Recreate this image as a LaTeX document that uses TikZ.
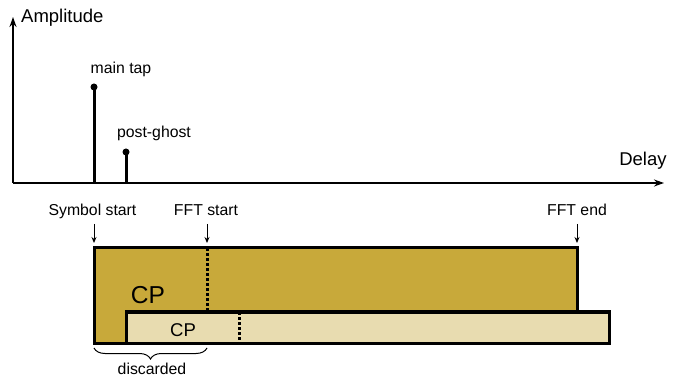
\documentclass[tikz,border=0pt]{standalone}
\usepackage{fontspec}
\setmainfont{Liberation Sans}
\usetikzlibrary{arrows.meta,decorations.pathreplacing}
\definecolor{cpdark}{RGB}{200,169,58}
\definecolor{cplight}{RGB}{232,220,176}
\tikzset{
  axis/.style={line width=2.5pt,-{Stealth[length=10pt,width=7pt]}},
  tap/.style={line width=3pt},
  lbl/.style={font=\fontsize{15.8}{18}\selectfont,inner sep=0pt,anchor=base},
  axlbl/.style={font=\fontsize{18.5}{22}\selectfont,inner sep=0pt,anchor=base},
  pointer/.style={line width=0.9pt,-{Stealth[length=6pt,width=5pt]}},
  box/.style={draw=black,line width=3pt},
  cut/.style={line width=3pt,dash pattern=on 3pt off 2pt}
}
\begin{document}
\begin{tikzpicture}[x=1pt,y=-1pt]
\useasboundingbox (0,0) rectangle (673,385);
% axes
\coordinate (O) at (13,183);
\coordinate (ytop) at (13,17);
\coordinate (xend) at (664,183);
\draw[axis] (O) -- (ytop);
\draw[axis] (O) -- (xend);
\node[axlbl,anchor=base west] (amp) at (21,23) {Amplitude};
\node[axlbl] (delay) at (643,166) {Delay};
% channel taps
\coordinate (main) at (94,87);
\coordinate (ghost) at (126,152);
\draw[tap] (main |- O) -- (main);
\draw[tap] (ghost |- O) -- (ghost);
\fill (main) circle (3.5pt);
\fill (ghost) circle (3.5pt);
\node[lbl] (mainlbl) at (121,74) {main tap};
\node[lbl] (ghostlbl) at (154,138) {post-ghost};
% symbol timing
\node[lbl] (sym) at (92.5,216) {Symbol start};
\node[lbl] (fftstart) at (206,216) {FFT start};
\node[lbl] (fftend) at (577,216) {FFT end};
\coordinate (symtop) at (94,243);
\coordinate (fstop) at (207,243);
\coordinate (fetop) at (577,243);
\draw[pointer] (symtop |- 0,224) -- (symtop);
\draw[pointer] (fstop |- 0,224) -- (fstop);
\draw[pointer] (fetop |- 0,224) -- (fetop);
% symbol blocks
\draw[box,fill=cpdark] (94,248) rectangle (577,343);
\draw[cut] (207,248) -- (207,312);
\draw[box,fill=cplight] (126,312) rectangle (609,343);
\draw[cut] (239,312) -- (239,343);
\node[font=\fontsize{24.5}{28}\selectfont,inner sep=0pt,anchor=base] (cpbig) at (148,304) {CP};
\node[font=\fontsize{18.5}{22}\selectfont,inner sep=0pt,anchor=base] (cpsmall) at (183,337) {CP};
% discarded part
\draw[line width=1pt,decorate,decoration={brace,mirror,amplitude=11pt}] (94,348) -- (207,348);
\node[lbl] (disc) at (152,374) {discarded};
\end{tikzpicture}
\end{document}
